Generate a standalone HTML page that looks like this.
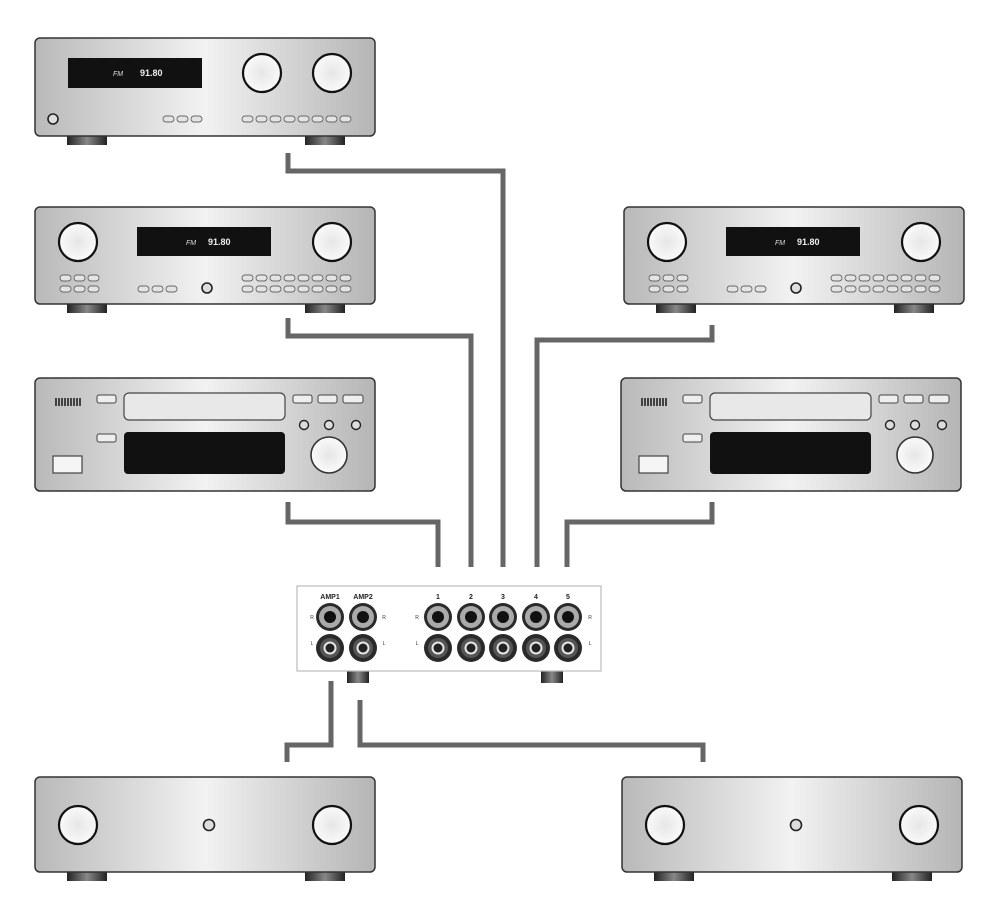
<!DOCTYPE html>
<html><head><meta charset="utf-8"><style>
html,body{margin:0;padding:0;background:#fff}
svg{display:block}
text{font-family:"Liberation Sans",sans-serif}
</style></head><body>
<svg width="1000" height="918" viewBox="0 0 1000 918" xmlns="http://www.w3.org/2000/svg">
<defs>
<linearGradient id="sil" x1="0" x2="1" y1="0" y2="0">
<stop offset="0" stop-color="#b9b9b9"/><stop offset="0.5" stop-color="#f2f2f2"/><stop offset="1" stop-color="#b5b5b5"/></linearGradient>
<radialGradient id="kn"><stop offset="0" stop-color="#e6e6e6"/><stop offset="1" stop-color="#fafafa"/></radialGradient>
<linearGradient id="ft" x1="0" x2="1"><stop offset="0" stop-color="#222"/><stop offset="0.5" stop-color="#888"/><stop offset="1" stop-color="#222"/></linearGradient>
<g id="feet"><rect x="32" y="0" width="40" height="9" fill="url(#ft)"/><rect x="270" y="0" width="40" height="9" fill="url(#ft)"/></g>
<g id="b3"><rect x="0" y="0" width="11" height="6" rx="3" fill="#e4e4e4" stroke="#666" stroke-width="0.9"/><rect x="14" y="0" width="11" height="6" rx="3" fill="#e4e4e4" stroke="#666" stroke-width="0.9"/><rect x="28" y="0" width="11" height="6" rx="3" fill="#e4e4e4" stroke="#666" stroke-width="0.9"/></g>
<g id="b8"><use href="#b3"/><use href="#b3" x="42"/><rect x="84" y="0" width="11" height="6" rx="3" fill="#e4e4e4" stroke="#666" stroke-width="0.9"/><rect x="98" y="0" width="11" height="6" rx="3" fill="#e4e4e4" stroke="#666" stroke-width="0.9"/></g>
<g id="rcvA">
<use href="#feet" y="98"/>
<rect x="0" y="0" width="340" height="98" rx="5" fill="url(#sil)" stroke="#333" stroke-width="1.5"/>
<rect x="33" y="20" width="134" height="30" fill="#111"/>
<circle cx="227" cy="35" r="19" fill="url(#kn)" stroke="#111" stroke-width="2.2"/>
<circle cx="297" cy="35" r="19" fill="url(#kn)" stroke="#111" stroke-width="2.2"/>
<circle cx="18" cy="81" r="5" fill="#ddd" stroke="#222" stroke-width="1.6"/>
<use href="#b3" x="128" y="78"/><use href="#b8" x="207" y="78"/>
</g>
<g id="rcvB">
<use href="#feet" y="97"/>
<rect x="0" y="0" width="340" height="97" rx="5" fill="url(#sil)" stroke="#333" stroke-width="1.5"/>
<rect x="102" y="20" width="134" height="29" fill="#111"/>
<circle cx="43" cy="35" r="19" fill="url(#kn)" stroke="#111" stroke-width="2.2"/>
<circle cx="297" cy="35" r="19" fill="url(#kn)" stroke="#111" stroke-width="2.2"/>
<circle cx="172" cy="81" r="5" fill="#ddd" stroke="#222" stroke-width="1.6"/>
<use href="#b3" x="25" y="68"/><use href="#b3" x="25" y="79"/>
<use href="#b3" x="103" y="79"/>
<use href="#b8" x="207" y="68"/><use href="#b8" x="207" y="79"/>
</g>
<g id="cd">
<rect x="0" y="0" width="340" height="113" rx="5" fill="url(#sil)" stroke="#333" stroke-width="1.5"/>
<g stroke="#222" stroke-width="1.6"><path d="M21 20v8M24 20v8M27 20v8M30 20v8M33 20v8M36 20v8M39 20v8M42 20v8M45 20v8"/></g>
<rect x="62" y="17" width="19" height="8" rx="2" fill="#eee" stroke="#444"/>
<rect x="89" y="15" width="161" height="27" rx="5" fill="#e8e8e8" stroke="#444" stroke-width="1.2"/>
<rect x="258" y="17" width="19" height="8" rx="2" fill="#eee" stroke="#444"/>
<rect x="283" y="17" width="19" height="8" rx="2" fill="#eee" stroke="#444"/>
<rect x="308" y="17" width="20" height="8" rx="2" fill="#eee" stroke="#444"/>
<rect x="62" y="56" width="19" height="8" rx="2" fill="#eee" stroke="#444"/>
<rect x="89" y="54" width="161" height="42" rx="4" fill="#111"/>
<circle cx="269" cy="47" r="4.5" fill="#ddd" stroke="#222" stroke-width="1.4"/>
<circle cx="294" cy="47" r="4.5" fill="#ddd" stroke="#222" stroke-width="1.4"/>
<circle cx="321" cy="47" r="4.5" fill="#ddd" stroke="#222" stroke-width="1.4"/>
<circle cx="294" cy="77" r="18" fill="url(#kn)" stroke="#333" stroke-width="1.6"/>
<rect x="18" y="78" width="29" height="17" fill="#f5f5f5" stroke="#444" stroke-width="1.2"/>
</g>
<g id="amp">
<use href="#feet" y="95"/>
<rect x="0" y="0" width="340" height="95" rx="5" fill="url(#sil)" stroke="#333" stroke-width="1.5"/>
<circle cx="43" cy="48" r="19" fill="url(#kn)" stroke="#111" stroke-width="2.2"/>
<circle cx="297" cy="48" r="19" fill="url(#kn)" stroke="#111" stroke-width="2.2"/>
<circle cx="174" cy="48" r="5.5" fill="#ddd" stroke="#222" stroke-width="1.6"/>
</g>
<g id="jR"><circle r="14" fill="#2a2a2a"/><circle r="11" fill="#aaa"/><circle r="6" fill="#111"/></g>
<g id="jL"><circle r="14" fill="#2a2a2a"/><circle r="10" fill="#555"/><circle r="6.5" fill="#e5e5e5"/><circle r="4.5" fill="#222"/></g>
</defs>

<g fill="none" stroke="#666" stroke-width="5" stroke-linecap="butt">
<path d="M288 153V171H503V567"/>
<path d="M288 318V336H471V567"/>
<path d="M712 325V340H537V567"/>
<path d="M288 502V522H438V567"/>
<path d="M712 502V522H567V567"/>
<path d="M331 681V745H287V762"/>
<path d="M360 700V745H703V762"/>
</g>

<use href="#rcvA" x="35" y="38"/>
<text x="113" y="76" font-size="7" fill="#ddd" font-style="italic">FM</text>
<text x="140" y="76" font-size="9" fill="#eee" font-weight="bold">91.80</text>
<use href="#rcvB" x="35" y="207"/>
<text x="186" y="245" font-size="7" fill="#ddd" font-style="italic">FM</text>
<text x="208" y="245" font-size="9" fill="#eee" font-weight="bold">91.80</text>
<use href="#rcvB" x="624" y="207"/>
<text x="775" y="245" font-size="7" fill="#ddd" font-style="italic">FM</text>
<text x="797" y="245" font-size="9" fill="#eee" font-weight="bold">91.80</text>
<use href="#cd" x="35" y="378"/>
<use href="#cd" x="621" y="378"/>
<use href="#amp" x="35" y="777"/>
<use href="#amp" x="622" y="777"/>

<rect x="347" y="670" width="22" height="13" fill="url(#ft)"/>
<rect x="541" y="670" width="22" height="13" fill="url(#ft)"/>
<rect x="297" y="586" width="304" height="85" fill="#fff" stroke="#bbb" stroke-width="1.2"/>
<g font-size="7" font-weight="bold" fill="#222" text-anchor="middle">
<text x="330" y="599">AMP1</text><text x="363" y="599">AMP2</text>
<text x="438" y="599">1</text><text x="471" y="599">2</text><text x="503" y="599">3</text><text x="536" y="599">4</text><text x="568" y="599">5</text>
</g>
<g font-size="5" fill="#333" text-anchor="middle">
<text x="312" y="619">R</text><text x="384" y="619">R</text><text x="417" y="619">R</text><text x="590" y="619">R</text>
<text x="312" y="645">L</text><text x="384" y="645">L</text><text x="417" y="645">L</text><text x="590" y="645">L</text>
</g>
<use href="#jR" x="330" y="617"/><use href="#jR" x="363" y="617"/>
<use href="#jR" x="438" y="617"/><use href="#jR" x="471" y="617"/><use href="#jR" x="503" y="617"/><use href="#jR" x="536" y="617"/><use href="#jR" x="568" y="617"/>
<use href="#jL" x="330" y="648"/><use href="#jL" x="363" y="648"/>
<use href="#jL" x="438" y="648"/><use href="#jL" x="471" y="648"/><use href="#jL" x="503" y="648"/><use href="#jL" x="536" y="648"/><use href="#jL" x="568" y="648"/>
</svg>
</body></html>
